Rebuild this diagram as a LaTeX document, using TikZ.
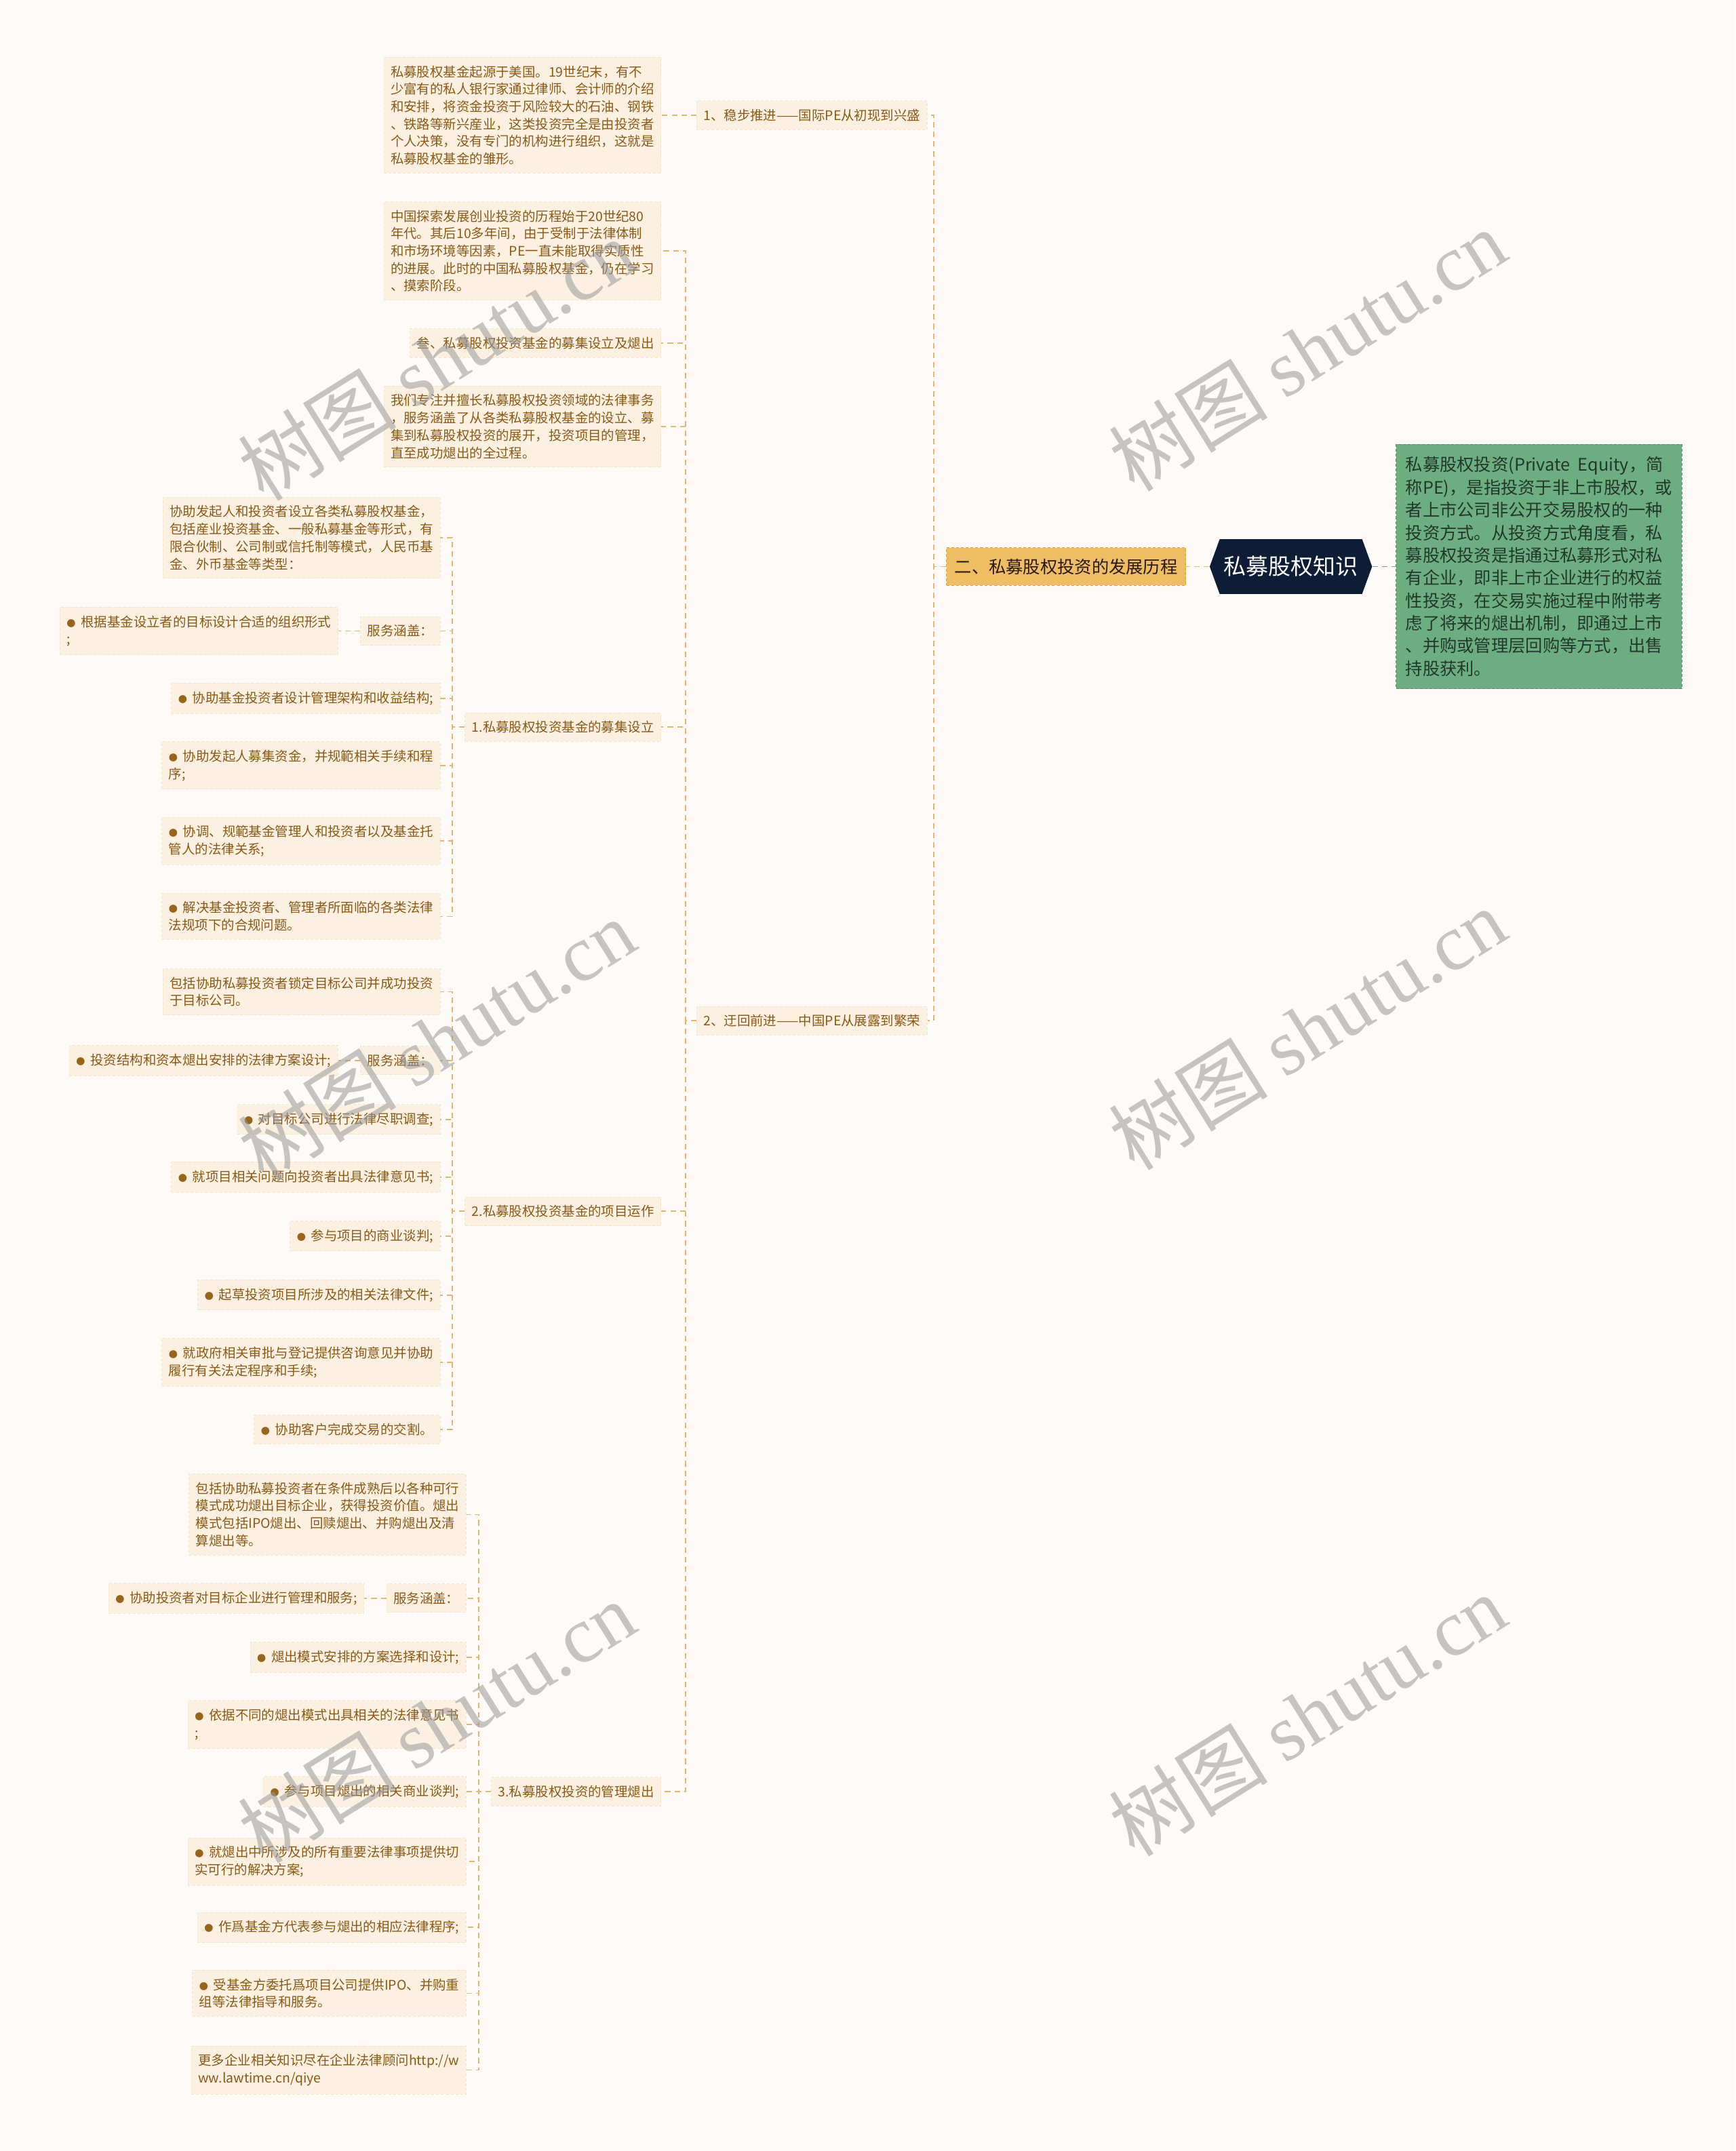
\documentclass[tikz,border=0pt]{standalone}
\usepackage{fontspec}
\setmainfont{Noto Sans CJK SC}
\newfontfamily\wmlatin{Liberation Serif}
\usetikzlibrary{positioning,shapes.symbols}

\definecolor{bgc}{HTML}{FDFAF7}
\definecolor{boxc}{HTML}{FCF1E1}
\definecolor{boxline}{HTML}{F6E4C8}
\definecolor{txtc}{HTML}{8A5A14}
\definecolor{dotc}{HTML}{9A6418}
\definecolor{linkc}{HTML}{E2B66C}
\definecolor{goldc}{HTML}{F0BE62}
\definecolor{goldline}{HTML}{D9A24A}
\definecolor{navyc}{HTML}{0E1D36}
\definecolor{greenc}{HTML}{6DAE80}
\definecolor{greenline}{HTML}{4F9466}
\definecolor{greentxt}{HTML}{23372A}

\newcommand{\bl}{{\color{dotc}\fontsize{6.5}{6}\selectfont ●}\hspace{0.4em}}

\begin{document}
\begin{tikzpicture}[x=1pt,y=-1pt,
    leaf/.style={fill=boxc, draw=boxline, dash pattern=on 2pt off 1.5pt, line width=0.4pt,
      text=txtc, font=\fontsize{9.6}{12.7}\selectfont, inner xsep=5pt, inner ysep=6pt,
      align=left, anchor=east},
    link/.style={draw=linkc, dash pattern=on 4pt off 3pt, line width=0.8pt},
    rootb/.style={shape=signal, signal to=west and east, signal pointer angle=140,
      fill=navyc, text=white, font=\fontsize{16.3}{20}\selectfont,
      inner xsep=3pt, minimum height=40pt},
    mainb/.style={fill=goldc, draw=goldline, dash pattern=on 2pt off 1.5pt,
      text=black!80!brown, font=\fontsize{12.5}{15}\selectfont, inner xsep=6pt, inner ysep=8pt},
    introb/.style={fill=greenc, draw=greenline, dash pattern=on 2pt off 1.5pt,
      text=greentxt, font=\fontsize{12.5}{16.5}\selectfont, inner xsep=7pt, inner ysep=9pt,
      align=left},
    wmark/.style={rotate=32, text=gray!80, text opacity=0.55,
      font=\fontsize{58}{64}\selectfont}
  ]

    % page
    \fill[bgc] (0,0) rectangle (1265,1568);
    \useasboundingbox (0,0) rectangle (1265,1568);

    % centre
    \node[rootb] (root) at (941,413) {私募股权知识};
    \node[mainb, left=17pt of root] (m) {二、私募股权投资的发展历程};
    \node[introb, right=17pt of root] (intro) {私募股权投资(Private\ \ Equity，简\\
      称PE)，是指投资于非上市股权，或\\
      者上市公司非公开交易股权的一种\\
      投资方式。从投资方式角度看，私\\
      募股权投资是指通过私募形式对私\\
      有企业，即非上市企业进行的权益\\
      性投资，在交易实施过程中附带考\\
      虑了将来的煺出机制，即通过上市\\
      、并购或管理层回购等方式，出售\\
      持股获利。};
    \draw[link, draw=goldc] (root.west) -- (m.east);
    \draw[link, draw=greenc] (root.east) -- (intro.west);

    % first level
    \node[leaf] (n1) at (676,84) {1、稳步推进——国际PE从初现到兴盛};
    \node[leaf] (n2) at (676,744) {2、迂回前进——中国PE从展露到繁荣};
    \foreach \c in {n1,n2} {
        \draw[link] (m.west) -- ++(-9,0) |- (\c.east);
    }

    \node[leaf] (a1) at (482,84) {私募股权基金起源于美国。19世纪末，有不\\
      少富有的私人银行家通过律师、会计师的介绍\\
      和安排，将资金投资于风险较大的石油、钢铁\\
      、铁路等新兴産业，这类投资完全是由投资者\\
      个人决策，没有专门的机构进行组织，这就是\\
      私募股权基金的雏形。};
    \draw[link] (n1.west) -- (a1.east);

    % second level
    \foreach \nm/\y/\txt in {
        b1/183/{中国探索发展创业投资的历程始于20世纪80\\年代。其后10多年间，由于受制于法律体制\\和市场环境等因素，PE一直未能取得实质性\\的进展。此时的中国私募股权基金，仍在学习\\、摸索阶段。},
        b2/250/{叁、私募股权投资基金的募集设立及煺出},
        b3/311/{我们专注并擅长私募股权投资领域的法律事务\\，服务涵盖了从各类私募股权基金的设立、募\\集到私募股权投资的展开，投资项目的管理，\\直至成功煺出的全过程。},
        g1/530/{1.私募股权投资基金的募集设立},
        g2/883/{2.私募股权投资基金的项目运作},
        g3/1306/{3.私募股权投资的管理煺出}} {
        \node[leaf] (\nm) at (482,\y) {\txt};
        \draw[link] (n2.west) -- ++(-8,0) |- (\nm.east);
    }

    % group 1
    \foreach \nm/\y/\txt in {
        c1/392/{协助发起人和投资者设立各类私募股权基金，\\包括産业投资基金、一般私募基金等形式，有\\限合伙制、公司制或信托制等模式，人民币基\\金、外币基金等类型：},
        sv1/460/{服务涵盖：},
        c3/509/{\bl 协助基金投资者设计管理架构和收益结构;},
        c4/558/{\bl 协助发起人募集资金，并规範相关手续和程\\序;},
        c5/613/{\bl 协调、规範基金管理人和投资者以及基金托\\管人的法律关系;},
        c6/668/{\bl 解决基金投资者、管理者所面临的各类法律\\法规项下的合规问题。}} {
        \node[leaf] (\nm) at (321,\y) {\txt};
        \draw[link] (g1.west) -- ++(-9,0) |- (\nm.east);
    }
    \node[leaf, left=16pt of sv1] (sv1c) {\bl 根据基金设立者的目标设计合适的组织形式\\;};
    \draw[link] (sv1.west) -- (sv1c.east);

    % group 2
    \foreach \nm/\y/\txt in {
        d1/723/{包括协助私募投资者锁定目标公司并成功投资\\于目标公司。},
        sv2/773/{服务涵盖：},
        d3/816/{\bl 对目标公司进行法律尽职调查;},
        d4/858/{\bl 就项目相关问题向投资者出具法律意见书;},
        d5/901/{\bl 参与项目的商业谈判;},
        d6/944/{\bl 起草投资项目所涉及的相关法律文件;},
        d7/993/{\bl 就政府相关审批与登记提供咨询意见并协助\\履行有关法定程序和手续;},
        d8/1042/{\bl 协助客户完成交易的交割。}} {
        \node[leaf] (\nm) at (321,\y) {\txt};
        \draw[link] (g2.west) -- ++(-9,0) |- (\nm.east);
    }
    \node[leaf, left=16pt of sv2] (sv2c) {\bl 投资结构和资本煺出安排的法律方案设计;};
    \draw[link] (sv2.west) -- (sv2c.east);

    % group 3
    \foreach \nm/\y/\txt in {
        e1/1104/{包括协助私募投资者在条件成熟后以各种可行\\模式成功煺出目标企业，获得投资价值。煺出\\模式包括IPO煺出、回赎煺出、并购煺出及清\\算煺出等。},
        sv3/1165/{服务涵盖：},
        e3/1208/{\bl 煺出模式安排的方案选择和设计;},
        e4/1257/{\bl 依据不同的煺出模式出具相关的法律意见书\\;},
        e5/1306/{\bl 参与项目煺出的相关商业谈判;},
        e6/1357/{\bl 就煺出中所涉及的所有重要法律事项提供切\\实可行的解决方案;},
        e7/1405/{\bl 作爲基金方代表参与煺出的相应法律程序;},
        e8/1453/{\bl 受基金方委托爲项目公司提供IPO、并购重\\组等法律指导和服务。},
        e9/1509/{更多企业相关知识尽在企业法律顾问http://w\\ww.lawtime.cn/qiye}} {
        \node[leaf] (\nm) at (340,\y) {\txt};
        \draw[link] (g3.west) -- ++(-9,0) |- (\nm.east);
    }
    \node[leaf, left=16pt of sv3] (sv3c) {\bl 协助投资者对目标企业进行管理和服务;};
    \draw[link] (sv3.west) -- (sv3c.east);

    % watermarks
    \foreach \x/\y [count=\i] in {318/262, 953/255, 318/758, 953/750, 318/1255, 953/1250} {
        \node[wmark] (wm\i) at (\x,\y) {树图 {\wmlatin shutu.cn}};
    }

\end{tikzpicture}
\end{document}
